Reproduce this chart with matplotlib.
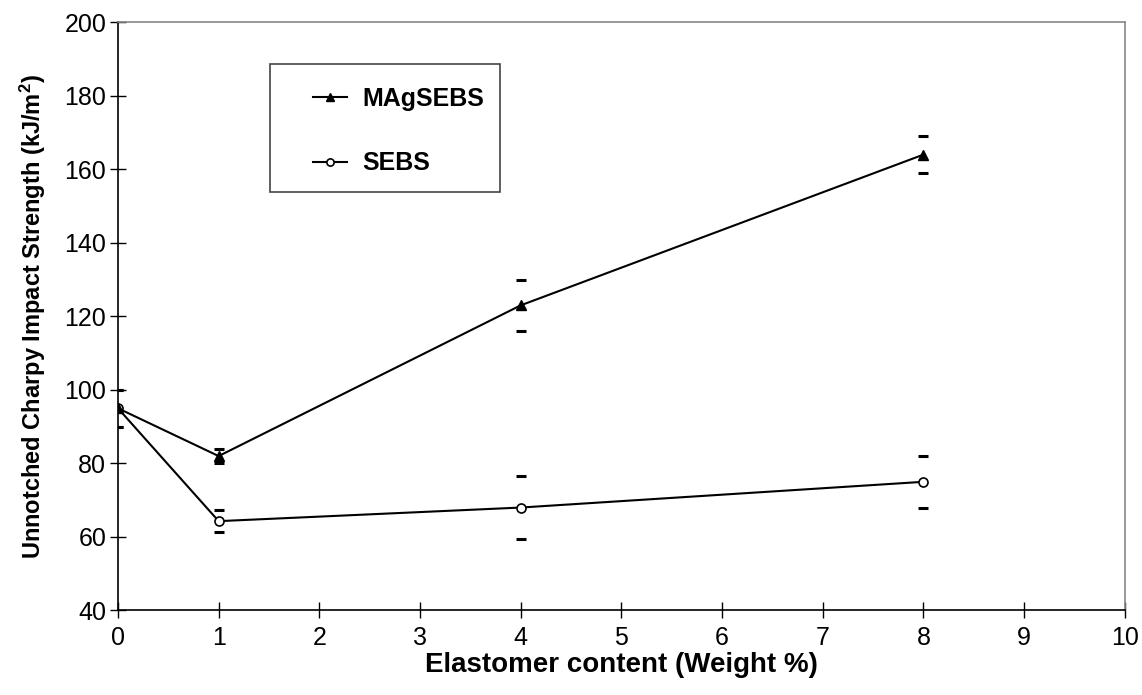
import matplotlib.pyplot as plt
from matplotlib.patches import Rectangle

plt.rcParams['font.family'] = ['Liberation Sans', 'DejaVu Sans']
plt.rcParams['mathtext.default'] = 'regular'

# data
content = [0, 1, 4, 8]
magsebs = [95, 82, 123, 164]
magsebs_err = [5, 2, 7, 5]
sebs = [95, 64.3, 68, 75]
sebs_err = [5, 3, 8.5, 7]

fig = plt.figure(figsize=(11.42, 6.95), dpi=100)
ax = fig.add_axes([0.1033, 0.1216, 0.8817, 0.8464])

ax.plot(content, magsebs, color="black", linewidth=1.5, marker="^",
        markersize=7, markerfacecolor="black", label="MAgSEBS", zorder=4)
ax.plot(content, sebs, color="black", linewidth=1.5, marker="o",
        markersize=6.5, markerfacecolor="white", markeredgewidth=1.2,
        label="SEBS", zorder=3)

# error bars are drawn as caps only
ax.errorbar(content, magsebs, yerr=magsebs_err, fmt="none", ecolor="black",
            elinewidth=0, capsize=3.3, capthick=2.2)
ax.errorbar(content, sebs, yerr=sebs_err, fmt="none", ecolor="black",
            elinewidth=0, capsize=3.3, capthick=2.2)

ax.set_xlim(0, 10)
ax.set_ylim(40, 200)
ax.set_xticks(range(0, 11))
ax.set_yticks(range(40, 201, 20))
ax.tick_params(direction="inout", length=11, width=1, labelsize=18,
               colors="black")
ax.tick_params(axis="x", pad=6)
ax.tick_params(axis="y", pad=3)

for side in ["left", "bottom"]:
    ax.spines[side].set_color("black")
    ax.spines[side].set_linewidth(1.2)
for side in ["top", "right"]:
    ax.spines[side].set_color("#888888")
    ax.spines[side].set_linewidth(1.2)

ax.set_xlabel("Elastomer content (Weight %)", fontsize=20, fontweight="bold",
              labelpad=1)
ax.set_ylabel("Unnotched Charpy Impact Strength (kJ/m$^2$)", fontsize=17,
              fontweight="bold", labelpad=12)

# legend box drawn separately so its padding can match the original
ax.add_patch(Rectangle((0.151, 0.711), 0.228, 0.218, transform=ax.transAxes,
                       facecolor="white", edgecolor="#444444", linewidth=1.2,
                       zorder=5))
leg = ax.legend(loc="upper left", bbox_to_anchor=(0.1936, 0.89),
                prop={"size": 18, "weight": "bold"}, frameon=False,
                labelspacing=1.62, borderpad=0, handlelength=1.36,
                handletextpad=0.6, borderaxespad=0, markerscale=0.8)
leg.set_zorder(6)

fig.savefig("out.png", dpi=100)
